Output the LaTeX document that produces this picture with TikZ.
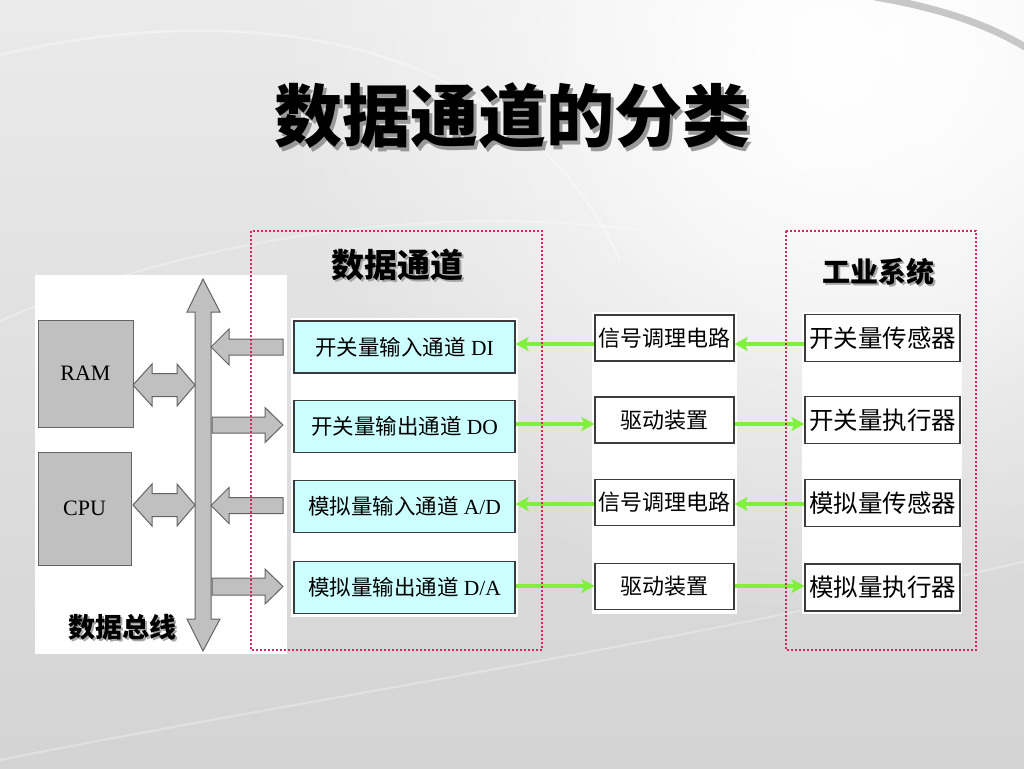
\documentclass[tikz,border=0pt]{standalone}
\usepackage{fontspec}
\setmainfont{Liberation Serif}
\newfontfamily\cjk{Noto Sans CJK SC}
\usetikzlibrary{arrows.meta,calc,fadings}
\tikzfading[name=glowfade, inner color=transparent!0, outer color=transparent!100]

\definecolor{pinkdot}{RGB}{226,30,100}
\definecolor{gArrow}{RGB}{128,240,60}
\definecolor{cyanfill}{RGB}{204,255,255}
\definecolor{boxline}{RGB}{60,60,60}
\definecolor{blockfill}{RGB}{192,192,192}
\definecolor{blockline}{RGB}{100,100,100}

\begin{document}
\begin{tikzpicture}[x=1pt,y=-1pt,
  chanbox/.style={draw=boxline, line width=1.2pt, fill=cyanfill, minimum width=221pt, minimum height=52pt, inner sep=0pt, font=\fontsize{21.5}{24}\selectfont},
  midbox/.style={draw=boxline, line width=1.2pt, fill=white, minimum width=139pt, minimum height=46pt, inner sep=0pt, font=\cjk\fontsize{22}{26}\selectfont},
  indbox/.style={draw=boxline, line width=1.2pt, fill=white, minimum width=155pt, minimum height=47pt, inner sep=0pt, font=\cjk\fontsize{24.5}{28}\selectfont},
  hwbox/.style={draw=blockline, line width=1pt, fill=blockfill, inner sep=0pt, font=\fontsize{22}{24}\selectfont},
  blockarrow/.style={draw=blockline, line width=1pt, fill=blockfill, line join=miter},
  garrow/.style={draw=gArrow, line width=4pt, -{Stealth[length=13pt,width=14pt,inset=3pt]}},
  pinkframe/.style={draw=pinkdot, line width=2pt, dash pattern=on 2pt off 2pt},
  panel/.style={fill=white},
  headlabel/.style={font=\cjk\bfseries\fontsize{#1}{#1}\selectfont},
]
\useasboundingbox (0,0) rectangle (1024,768);
% background
\shade[top color=black!8, bottom color=black!17] (0,0) rectangle (1024,768);
\fill[white, path fading=glowfade, fit fading=true] (830,60) circle (560);
\fill[white, path fading=glowfade, fit fading=true, opacity=0.7] (900,40) circle (380);
\draw[white, line width=2.5pt, opacity=0.35] (-20,60) .. controls (250,-10) and (520,40) .. (620,260);
\draw[white, line width=2pt, opacity=0.3] (-20,330) .. controls (150,250) and (400,200) .. (640,230);
\draw[white, line width=2pt, opacity=0.3] (0,760) .. controls (300,700) and (700,640) .. (1030,560);
\draw[black!22, line width=7pt] (875,-3) .. controls (940,8) and (990,25) .. (1030,50);

% title
\node[headlabel=68, text=black!40] at (515.5,119.5) {数据通道的分类};
\node[headlabel=68] (title) at (512,116) {数据通道的分类};

% white panels
\fill[panel] (35,275) rectangle (287,654);
\fill[panel] (291,318) rectangle (518,617);
\fill[panel] (592,312) rectangle (737,614);
\fill[panel] (802,312) rectangle (962,614);

% RAM / CPU
\node[hwbox, minimum width=95pt, minimum height=107pt] (ram) at (85.5,373.5) {RAM};
\node[hwbox, minimum width=93pt, minimum height=113pt] (cpu) at (84.5,508.5) {CPU};

% bus
\draw[blockarrow] (203,279) -- (220,312) -- (211,312) -- (211,619) -- (220,619) -- (203,651) -- (187,619) -- (195,619) -- (195,312) -- (187,312) -- cycle;
% RAM / CPU double arrows
\draw[blockarrow] (133,385) -- (152,364) -- (152,373.5) -- (177,373.5) -- (177,364) -- (195,385) -- (177,406) -- (177,396.5) -- (152,396.5) -- (152,406) -- cycle;
\draw[blockarrow] (133,505) -- (152,484) -- (152,493.5) -- (177,493.5) -- (177,484) -- (195,505) -- (177,526) -- (177,516.5) -- (152,516.5) -- (152,526) -- cycle;
% channel block arrows
\draw[blockarrow] (211,347) -- (229,329) -- (229,339) -- (283,339) -- (283,355) -- (229,355) -- (229,365) -- cycle;
\draw[blockarrow] (212,417) -- (265,417) -- (265,407.5) -- (283,425) -- (265,442.5) -- (265,433) -- (212,433) -- cycle;
\draw[blockarrow] (211,505.5) -- (229,487.5) -- (229,497.5) -- (283,497.5) -- (283,513.5) -- (229,513.5) -- (229,523.5) -- cycle;
\draw[blockarrow] (212,578) -- (265,578) -- (265,569) -- (283,586.5) -- (265,604) -- (265,595) -- (212,595) -- cycle;

\node[headlabel=27, text=black!35] at (124,629) {数据总线};
\node[headlabel=27] (buslabel) at (122,627) {数据总线};

% channel boxes
\node[chanbox] (c1) at (404.5,347) {{\cjk 开关量输入通道} DI};
\node[chanbox] (c2) at (404.5,426.5) {{\cjk 开关量输出通道} DO};
\node[chanbox] (c3) at (404.5,506.5) {{\cjk 模拟量输入通道} A/D};
\node[chanbox] (c4) at (404.5,587.5) {{\cjk 模拟量输出通道} D/A};

% middle boxes
\node[midbox] (m1) at (664.5,338) {信号调理电路};
\node[midbox] (m2) at (664.5,420) {驱动装置};
\node[midbox] (m3) at (664.5,502.5) {信号调理电路};
\node[midbox] (m4) at (664.5,586.5) {驱动装置};

% industrial boxes
\node[indbox] (s1) at (882.5,338) {开关量传感器};
\node[indbox] (s2) at (882.5,420) {开关量执行器};
\node[indbox] (s3) at (882.5,503) {模拟量传感器};
\node[indbox] (s4) at (882.5,587.5) {模拟量执行器};

% row levels
\coordinate (r1) at (0,344);
\coordinate (r2) at (0,424);
\coordinate (r3) at (0,504);
\coordinate (r4) at (0,586);

% green connectors
\draw[garrow] (m1.west |- r1) -- (c1.east |- r1);
\draw[garrow] (s1.west |- r1) -- (m1.east |- r1);
\draw[garrow] (c2.east |- r2) -- (m2.west |- r2);
\draw[garrow] (m2.east |- r2) -- (s2.west |- r2);
\draw[garrow] (m3.west |- r3) -- (c3.east |- r3);
\draw[garrow] (s3.west |- r3) -- (m3.east |- r3);
\draw[garrow] (c4.east |- r4) -- (m4.west |- r4);
\draw[garrow] (m4.east |- r4) -- (s4.west |- r4);

% group labels
\node[headlabel=33, text=black!35] at (399,267) {数据通道};
\node[headlabel=33] (chanlabel) at (397,265) {数据通道};
\node[headlabel=28, text=black!35] at (880,274) {工业系统};
\node[headlabel=28] (indlabel) at (878,272) {工业系统};

% dotted frames
\draw[pinkframe] (251,231) rectangle (542,650);
\draw[pinkframe] (786,231) rectangle (976,650);
\end{tikzpicture}
\end{document}
